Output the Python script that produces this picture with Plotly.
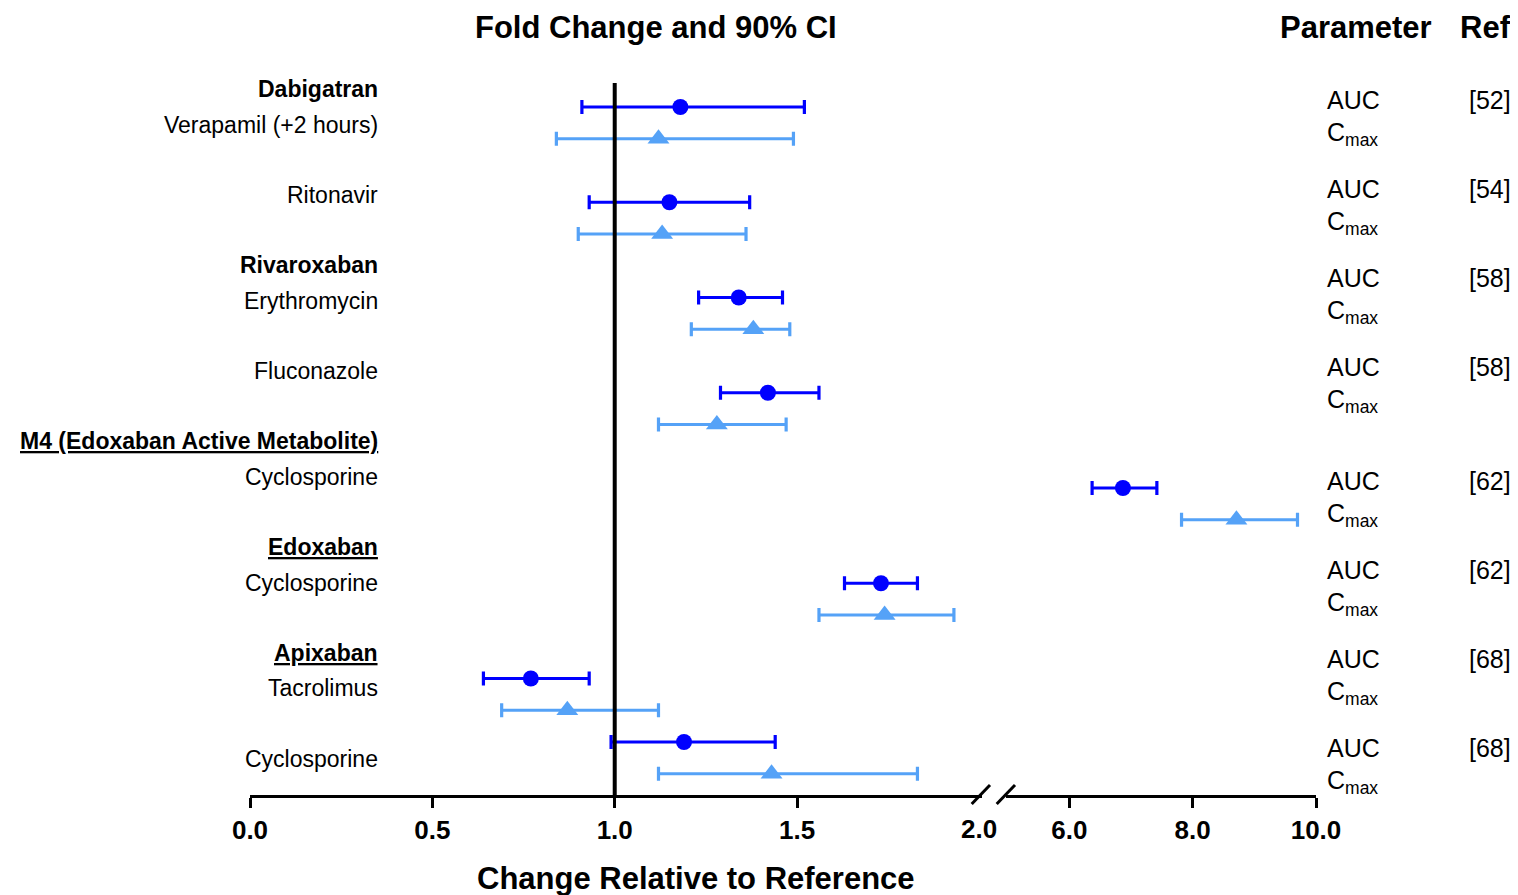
import plotly.graph_objects as go

# ---------------- data ----------------
combos = ["Dabigatran / Verapamil (+2 hours)", "Dabigatran / Ritonavir",
          "Rivaroxaban / Erythromycin", "Rivaroxaban / Fluconazole",
          "M4 / Cyclosporine", "Edoxaban / Cyclosporine",
          "Apixaban / Tacrolimus", "Apixaban / Cyclosporine"]
auc_point = [1.18, 1.15, 1.34, 1.42, 6.87, 1.73, 0.77, 1.19]
auc_low   = [0.91, 0.93, 1.23, 1.29, 6.37, 1.63, 0.64, 0.99]
auc_high  = [1.52, 1.37, 1.46, 1.56, 7.42, 1.83, 0.93, 1.44]
cmax_point = [1.12, 1.13, 1.38, 1.28, 8.71, 1.74, 0.87, 1.43]
cmax_low   = [0.84, 0.90, 1.21, 1.12, 7.82, 1.56, 0.69, 1.12]
cmax_high  = [1.49, 1.36, 1.48, 1.47, 9.70, 1.93, 1.12, 1.83]
refs = ["[52]", "[54]", "[58]", "[58]", "[62]", "[62]", "[68]", "[68]"]
left_tick_vals = [0.0, 0.5, 1.0, 1.5]
right_tick_vals = [6.0, 8.0, 10.0]
broken_label = "2.0"

left_labels = [  # (text, bold, underline)
    ("Dabigatran", True, False), ("Verapamil (+2 hours)", False, False),
    ("Ritonavir", False, False),
    ("Rivaroxaban", True, False), ("Erythromycin", False, False),
    ("Fluconazole", False, False),
    ("M4 (Edoxaban Active Metabolite)", True, True), ("Cyclosporine", False, False),
    ("Edoxaban", True, True), ("Cyclosporine", False, False),
    ("Apixaban", True, True), ("Tacrolimus", False, False),
    ("Cyclosporine", False, False),
]

# ---------------- layout helpers ----------------
OFF = 8                      # page body margin
W, H = 1518 - OFF, 895 - OFF
L, R, T, B = 250, 1316, 83, 795   # plot area in reference-page pixels
def xp(px):
    return (px - L) / (R - L)
def yp(py):
    return (B - py) / (B - T)

row_pos = [0, 3, 6, 9, 12, 15, 18, 20]   # vertical slots (AUC), Cmax one slot below
FONT = "Liberation Sans, Arial, sans-serif"
C_AUC = "#0000FF"
C_CMAX = "#55A2F7"

fig = go.Figure()
for i in range(len(combos)):
    on_right = auc_point[i] > 3
    xa = "x2" if on_right else "x"
    fig.add_trace(go.Scatter(
        x=[auc_point[i]], y=[row_pos[i]], xaxis=xa, yaxis="y",
        mode="markers", marker=dict(symbol="circle", size=16, color=C_AUC),
        error_x=dict(type="data", symmetric=False,
                     array=[auc_high[i] - auc_point[i]],
                     arrayminus=[auc_point[i] - auc_low[i]],
                     color=C_AUC, thickness=3.2, width=7),
        name="AUC", showlegend=False, hoverinfo="skip"))
    fig.add_trace(go.Scatter(
        x=[cmax_point[i]], y=[row_pos[i] + 1], xaxis=xa, yaxis="y",
        mode="markers", marker=dict(symbol="triangle-up", size=19, color=C_CMAX),
        error_x=dict(type="data", symmetric=False,
                     array=[cmax_high[i] - cmax_point[i]],
                     arrayminus=[cmax_point[i] - cmax_low[i]],
                     color=C_CMAX, thickness=3.2, width=7),
        name="Cmax", showlegend=False, hoverinfo="skip"))

left_end_px, right_start_px = 982, 1006
axis_common = dict(showline=True, linecolor="black", linewidth=3, ticks="outside",
                   ticklen=10, tickwidth=3, tickcolor="black", showgrid=False,
                   zeroline=False, tickformat=".1f",
                   tickfont=dict(family=FONT, size=26, color="black", weight="bold"))
fig.update_layout(
    width=W, height=H, plot_bgcolor="white", paper_bgcolor="white",
    margin=dict(l=L - OFF, r=W - (R - OFF), t=T - OFF, b=H - (B - OFF)),
    xaxis=dict(domain=[0, xp(left_end_px)], range=[0, 2.007],
               tickvals=left_tick_vals, anchor="y", **axis_common),
    xaxis2=dict(domain=[xp(right_start_px), 1], range=[4.974, 10],
                tickvals=right_tick_vals, anchor="y", **axis_common),
    yaxis=dict(range=[21.67, -0.756], visible=False, showgrid=False, zeroline=False),
    showlegend=False,
)

# reference line at 1.0
fig.add_shape(type="line", xref="x", yref="paper", x0=1, x1=1, y0=0, y1=1,
              line=dict(color="black", width=4), layer="above")
# axis break slashes
for x0, x1 in [(971.7, 990), (996.7, 1015)]:
    fig.add_shape(type="line", xref="paper", yref="paper",
                  x0=xp(x0), x1=xp(x1), y0=yp(804), y1=yp(785),
                  line=dict(color="black", width=3))

ann = []
# broken tick label
ann.append(dict(text="<b>%s</b>" % broken_label, xref="x", yref="paper", x=2.0, y=yp(829),
                xanchor="center", yanchor="middle", showarrow=False,
                font=dict(family=FONT, size=26, color="black")))
# headers
ann.append(dict(text="<b>Fold Change and 90% CI</b>", xref="paper", yref="paper",
                x=xp(656), y=yp(27), xanchor="center", yanchor="middle", showarrow=False,
                font=dict(family=FONT, size=31, color="black")))
ann.append(dict(text="<b>Parameter</b>", xref="paper", yref="paper",
                x=xp(1278), y=yp(27), xanchor="left", yanchor="middle", showarrow=False,
                font=dict(family=FONT, size=31, color="black")))
ann.append(dict(text="<b>Ref</b>", xref="paper", yref="paper",
                x=xp(1513), y=yp(27), xanchor="right", yanchor="middle", showarrow=False,
                font=dict(family=FONT, size=31, color="black")))
ann.append(dict(text="<b>Change Relative to Reference</b>", xref="paper", yref="paper",
                x=xp(696), y=yp(878), xanchor="center", yanchor="middle", showarrow=False,
                font=dict(family=FONT, size=31, color="black")))

# left labels
left_y = [89, 125, 195, 265, 301, 371, 441, 477, 547, 583, 653, 688, 759]
for (txt, bold, und), py in zip(left_labels, left_y):
    t = txt
    if und:
        t = "<u>%s</u>" % t
    if bold:
        t = "<b>%s</b>" % t
    ann.append(dict(text=t, xref="paper", yref="paper", x=xp(380), y=yp(py),
                    xanchor="right", yanchor="middle", showarrow=False,
                    font=dict(family=FONT, size=23, color="black")))

# right column: parameter + ref
auc_text_y = [100, 189, 278, 367, 481, 570, 659, 748]
for r, py in zip(refs, auc_text_y):
    ann.append(dict(text="AUC", xref="paper", yref="paper", x=xp(1325), y=yp(py),
                    xanchor="left", yanchor="middle", showarrow=False,
                    font=dict(family=FONT, size=25, color="black")))
    ann.append(dict(text="C<sub>max</sub>", xref="paper", yref="paper", x=xp(1325),
                    y=yp(py + 34), xanchor="left", yanchor="middle", showarrow=False,
                    font=dict(family=FONT, size=25, color="black")))
    ann.append(dict(text=r, xref="paper", yref="paper", x=xp(1513), y=yp(py),
                    xanchor="right", yanchor="middle", showarrow=False,
                    font=dict(family=FONT, size=25, color="black")))

fig.update_layout(annotations=ann)
fig.write_html("out.html")
